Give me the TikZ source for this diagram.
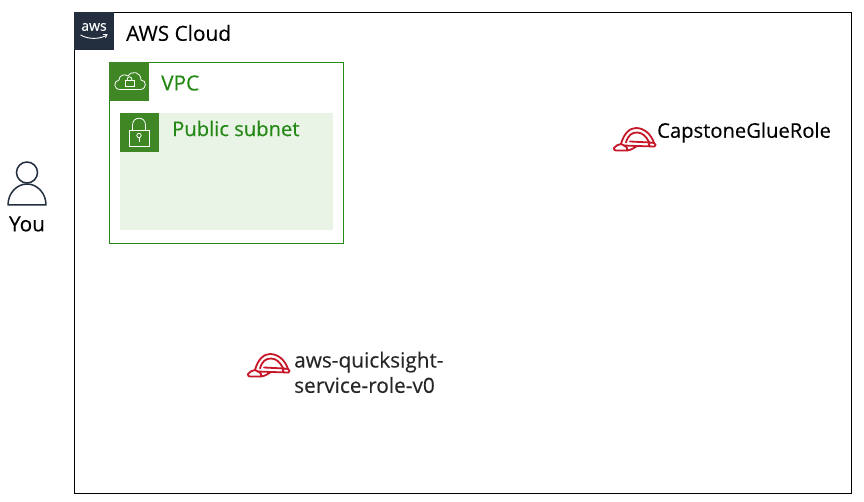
\documentclass[tikz,border=0pt]{standalone}
\usepackage{fontspec}
\setmainfont{Open Sans}[FakeBold=0.25]
\definecolor{awsdark}{HTML}{232F3E}
\definecolor{vpcgreen}{HTML}{248814}
\definecolor{subgreen}{HTML}{3F8624}
\definecolor{subfill}{HTML}{E9F3E6}
\definecolor{helmetred}{HTML}{C7182A}
\tikzset{
  x=1pt,y=-1pt,
  labeltext/.style={inner sep=0pt,anchor=west,font=\fontsize{20.2}{25}\selectfont},
  greentext/.style={labeltext,text=vpcgreen},
  whiteicon/.style={draw=white,line width=0.8pt,fill=none},
  helmetline/.style={draw=helmetred,line width=1.8pt,line join=round,line cap=round},
  helmet/.pic={
    \draw[helmetline] (8,17) .. controls (11,6) and (17,1) .. (23,1) .. controls (31,1) and (38,7) .. (41,16);
    \draw[helmetline] (13,15.5) .. controls (15,8) and (19,5.5) .. (24,5.5) .. controls (29,5.5) and (33,9) .. (36,15);
    \draw[helmetline] (17,14.5) -- (37,15.5);
    \draw[helmetline] (1,21) .. controls (3,18.5) and (5,17.5) .. (8,17) -- (11,18.5) -- (24,19) -- (41.5,19.5) .. controls (43,19) and (43,16.5) .. (41,16) -- (37,15.5) .. controls (35.5,16.5) and (35.5,18) .. (36.5,19.3);
    \draw[helmetline] (1,21) .. controls (0.5,22.5) and (1.5,23.5) .. (3,23.5) -- (14,23.5) .. controls (18,23) and (21,21) .. (24,19);
    \draw[helmetline] (11,18.5) .. controls (14,20) and (15,22) .. (14,23.5);
  },
}
\begin{document}
\begin{tikzpicture}
\useasboundingbox (0,0) rectangle (864,502);
\fill[white] (0,0) rectangle (864,502);
% AWS Cloud
\node[draw=black,line width=1pt,fill=none,inner sep=0pt,anchor=north west,minimum width=777pt,minimum height=481pt] (cloud) at (74,12) {};
\node[fill=awsdark,inner sep=0pt,anchor=north west,minimum width=40pt,minimum height=38pt] (awsbadge) at (74,12) {};
\node[inner sep=0pt,text=white,font=\fontsize{14}{14}\selectfont] (awstext) at (94,27) {aws};
\draw[white,line width=0.9pt] (80.5,35) .. controls (88,39.5) and (100,39.5) .. (107,35);
\draw[white,line width=0.8pt] (103,34.5) -- (107,34.5) -- (105.5,38);
\node[labeltext,font=\fontsize{20.8}{25}\selectfont] (cloudlabel) at (126,33) {AWS Cloud};
% VPC
\node[draw=vpcgreen,line width=0.8pt,inner sep=0pt,anchor=north west,minimum width=234pt,minimum height=180.5pt] (vpc) at (109.3,62.5) {};
\node[fill=subgreen,inner sep=0pt,anchor=north west,minimum width=40pt,minimum height=38.5pt] (vpcbadge) at (109,62) {};
\draw[whiteicon] (120,89.5) .. controls (113.5,89.5) and (113,81) .. (119,80) .. controls (119,75) and (125,73.5) .. (128,76) .. controls (132,70) and (141,72) .. (141,80) .. controls (147,80) and (147,89.5) .. (140,89.5) -- cycle;
\draw[whiteicon] (125,80.5) rectangle (134,86.5);
\draw[whiteicon] (127,80.5) .. controls (127,75.5) and (132,75.5) .. (132,80.5);
\node[greentext,font=\fontsize{20.8}{25}\selectfont] (vpclabel) at (161,83) {VPC};
% Public subnet
\node[fill=subfill,inner sep=0pt,anchor=north west,minimum width=213pt,minimum height=117pt] (subnet) at (120,113) {};
\node[fill=subgreen,inner sep=0pt,anchor=north west,minimum width=39pt,minimum height=39pt] (subbadge) at (120,113) {};
\draw[whiteicon] (129,130) rectangle (149,146);
\draw[whiteicon] (132.5,130) -- (132.5,125) .. controls (132.5,116) and (145.5,116) .. (145.5,125) -- (145.5,130);
\draw[whiteicon] (139,135.5) circle (2.2);
\draw[whiteicon] (139,137.7) -- (139,142);
\node[greentext] (subnetlabel) at (172,128.5) {Public subnet};
% You
\draw[draw=awsdark,line width=1.5pt] (27,172.5) circle (10.5);
\draw[draw=awsdark,line width=1.5pt,line join=round] (8,205) .. controls (8,193) and (17,184) .. (27,184) .. controls (37,184) and (46,193) .. (46,205) -- cycle;
\node[labeltext,anchor=center,font=\fontsize{20.8}{25}\selectfont] (you) at (27,224) {You};
% Roles
\pic at (613,127) {helmet};
\node[labeltext] (gluerole) at (657,132.5) {CapstoneGlueRole};
\pic at (247,353) {helmet};
\node[labeltext,anchor=north west,align=left,text=black!85,font=\fontsize{20.8}{25.3}\selectfont] (qsrole) at (294,351.5) {aws-quicksight-\\service-role-v0};
\end{tikzpicture}
\end{document}
